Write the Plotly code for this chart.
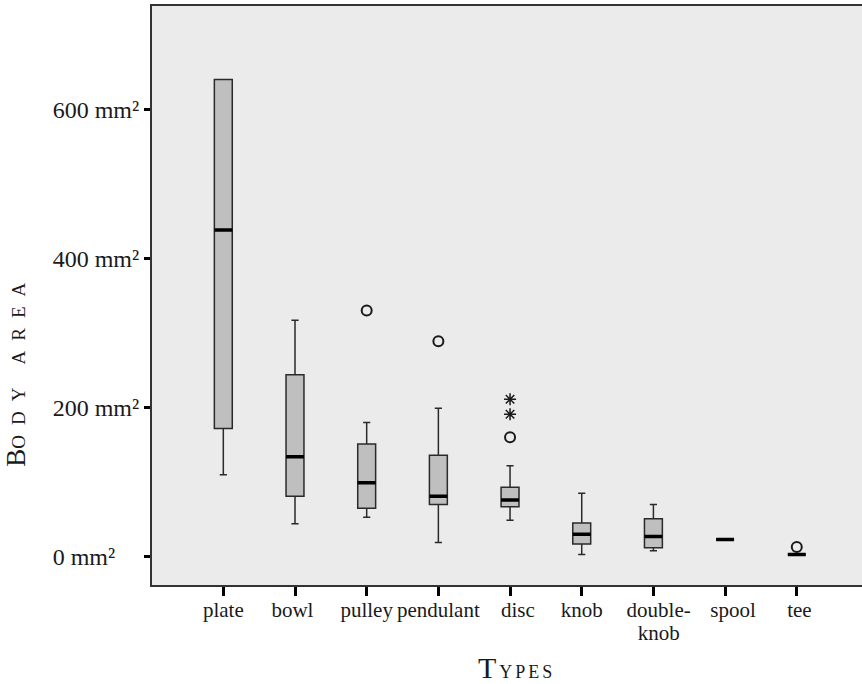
import plotly.graph_objects as go

# ---- data ----
categories = ["plate", "bowl", "pulley", "pendulant", "disc", "knob", "double-knob", "spool", "tee"]
NB = "\u00a0"
tick_words = ["plate", "bowl" + NB, "pulley", "pendulant", NB * 3 + "disc",
              "knob", NB * 2 + "double-<br>" + NB * 2 + "knob", NB * 3 + "spool", NB + "tee"]
lower_whisker = [110, 44, 53, 19, 49, 3, 8, 23, 3]
q1_values = [172, 81, 65, 70, 67, 17, 12, 23, 3]
median_values = [438, 134, 99, 81, 76, 30, 27, 23, 3]
q3_values = [640, 244, 151, 136, 93, 45, 51, 23, 3]
upper_whisker = [640, 317, 180, 199, 122, 85, 70, 23, 3]

circle_outlier_cat = [2, 3, 4, 8]
circle_outlier_val = [330, 289, 160, 13]
star_outlier_cat = [4, 4]
star_outlier_val = [191, 211]

y_tick_vals = [0, 200, 400, 600]
y_tick_text = ["0 mm²" + NB * 4, "200 mm²", "400 mm²", "600 mm²"]

positions = list(range(len(categories)))
FONT = "Liberation Serif"


def big(s):
    # label glyphs at 21px; base tick font is smaller to give a tighter line spacing
    return "<br>".join("<span style='font-size:21px'>%s</span>" % part for part in s.split("<br>"))


tick_text = [big(w) for w in tick_words]

fig = go.Figure()

# main boxes
fig.add_trace(go.Box(
    x=positions,
    q1=q1_values, median=median_values, q3=q3_values,
    lowerfence=lower_whisker, upperfence=upper_whisker,
    width=0.25, whiskerwidth=0.4,
    fillcolor="#BFBFBF",
    line=dict(color="#2a2a2a", width=1.5),
    boxpoints=False, showlegend=False, hoverinfo="skip",
))

# thick median bars (degenerate boxes at the median)
fig.add_trace(go.Box(
    x=positions,
    q1=median_values, median=median_values, q3=median_values,
    lowerfence=median_values, upperfence=median_values,
    width=0.25, whiskerwidth=0,
    fillcolor="black",
    line=dict(color="black", width=3.5),
    boxpoints=False, showlegend=False, hoverinfo="skip",
))

# outliers
fig.add_trace(go.Scatter(
    x=circle_outlier_cat, y=circle_outlier_val, mode="markers",
    marker=dict(symbol="circle-open", size=10, color="#1a1a1a", line=dict(width=2, color="#1a1a1a")),
    showlegend=False, hoverinfo="skip",
))
fig.add_trace(go.Scatter(
    x=star_outlier_cat, y=star_outlier_val, mode="markers",
    marker=dict(symbol="asterisk-open", size=10, color="#1a1a1a", line=dict(width=1.5, color="#1a1a1a")),
    showlegend=False, hoverinfo="skip",
))

fig.update_layout(
    width=862, height=684,
    margin=dict(l=152, r=0, t=6, b=99),
    paper_bgcolor="white",
    plot_bgcolor="#EBEBEB",
    font=dict(family=FONT, size=22, color="#1a1a1a"),
    boxmode="overlay",
    xaxis=dict(
        range=[-0.995, 8.91],
        tickmode="array", tickvals=positions, ticktext=tick_text, tickangle=0,
        ticks="outside", ticklen=9, tickwidth=3, tickcolor="black",
        ticklabelstandoff=-1,
        showline=True, linecolor="#333333", linewidth=2, mirror=True,
        showgrid=False, zeroline=False, automargin=False,
        tickfont=dict(family=FONT, size=18, color="#1a1a1a"),
    ),
    yaxis=dict(
        range=[-38, 738.5],
        tickmode="array", tickvals=y_tick_vals, ticktext=y_tick_text,
        ticks="outside", ticklen=6, tickwidth=3, tickcolor="black",
        showline=True, linecolor="#333333", linewidth=2,
        showgrid=False, zeroline=False, automargin=False,
        tickfont=dict(family=FONT, size=24, color="#1a1a1a"),
    ),
    annotations=[
        dict(text="<span style='font-size:27px'>B</span><span style='font-size:19px;letter-spacing:10px'>ODY AREA</span>",
             xref="paper", yref="paper", x=-0.1915, y=0.372,
             xanchor="center", yanchor="middle", textangle=-90, showarrow=False,
             font=dict(family=FONT, size=19, color="#1a1a1a")),
        dict(text="<span style='font-size:30px;letter-spacing:3px'>T</span><span style='font-size:18px;letter-spacing:3px'>YPES</span>",
             xref="paper", yref="paper", x=0.514, y=-0.142,
             xanchor="center", yanchor="middle", showarrow=False,
             font=dict(family=FONT, size=18, color="#1a1a1a")),
    ],
)

fig.write_html("out.html", config={"displayModeBar": False},
               post_script="document.body.style.margin='0';")
